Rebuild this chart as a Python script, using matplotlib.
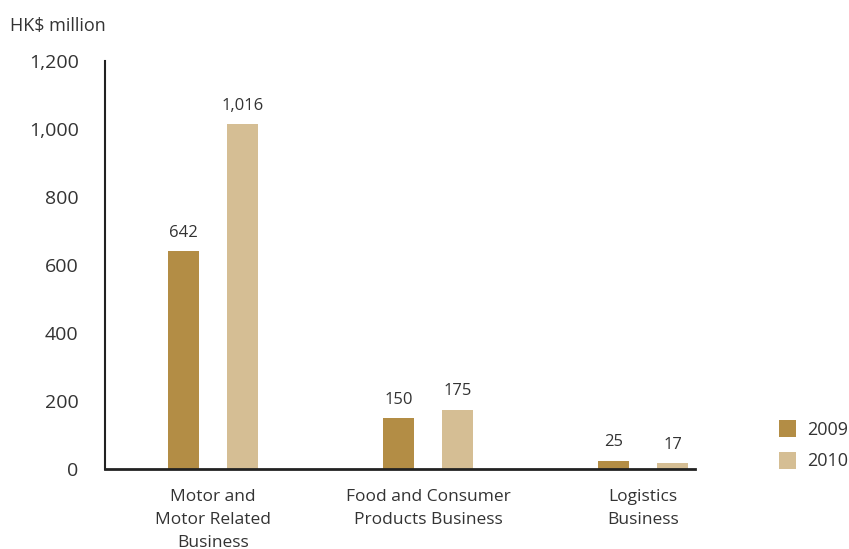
import matplotlib.pyplot as plt
import numpy as np

categories = ["Motor and\nMotor Related\nBusiness", "Food and Consumer\nProducts Business", "Logistics\nBusiness"]
years = ["2009", "2010"]
v2009 = [642, 150, 25]
v2010 = [1016, 175, 17]
yticks = [0, 200, 400, 600, 800, 1000, 1200]

c2009 = "#B38D45"
c2010 = "#D5BE94"
txt = "#333333"

plt.rcParams['font.family'] = ['Open Sans', 'DejaVu Sans']

fig = plt.figure(figsize=(8.49, 5.49), dpi=100)
ax = fig.add_axes([0.1237, 0.1457, 0.695, 0.7423])

x = np.arange(len(categories))
w = 0.144
off = 0.137
b1 = ax.bar(x - off, v2009, w, color=c2009, label=years[0])
b2 = ax.bar(x + off, v2010, w, color=c2010, label=years[1])

for bars, vals in [(b1, v2009), (b2, v2010)]:
    for b, v in zip(bars, vals):
        ax.annotate(f"{v:,}", (b.get_x() + b.get_width() / 2, v),
                    xytext=(0, 7.5), textcoords="offset points",
                    ha="center", va="bottom", fontsize=12, color=txt)

ax.set_xlim(-0.502, 2.242)
ax.set_ylim(0, 1200)
ax.set_yticks(yticks)
ax.set_yticklabels([f"{t:,}" for t in yticks], fontsize=14, color=txt)
ax.set_xticks(x)
ax.set_xticklabels(categories, fontsize=12.5, color=txt, linespacing=1.59, va="top")
ax.tick_params(length=0)
ax.tick_params(axis="y", pad=19)
ax.tick_params(axis="x", pad=14.5)
for s in ["top", "right"]:
    ax.spines[s].set_visible(False)
ax.spines["left"].set_linewidth(1.5)
ax.spines["bottom"].set_linewidth(2)
ax.spines["left"].set_color("#222222")
ax.spines["bottom"].set_color("#222222")

fig.text(0.012, 0.952, "HK$ million", fontsize=13, color=txt, va="center")

ax.legend(loc="upper left", bbox_to_anchor=(1.115, 0.16), frameon=False,
          fontsize=13, handlelength=0.95, handleheight=1.1, handletextpad=0.6,
          labelspacing=0.7, labelcolor=txt)

fig.savefig("out.png", dpi=100)
